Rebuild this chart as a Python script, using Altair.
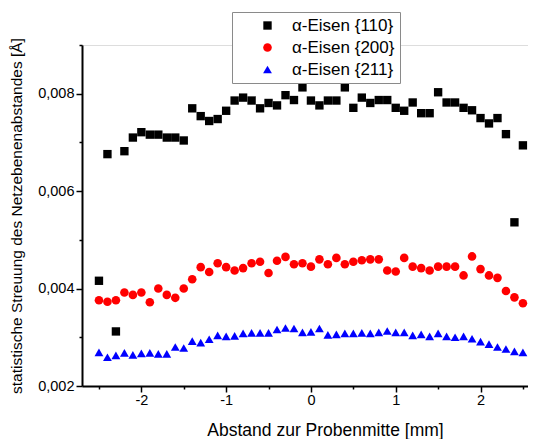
import altair as alt
import pandas as pd

positions = [-2.5, -2.4, -2.3, -2.2, -2.1, -2.0, -1.9, -1.8, -1.7, -1.6, -1.5,
             -1.4, -1.3, -1.2, -1.1, -1.0, -0.9, -0.8, -0.7, -0.6, -0.5,
             -0.4, -0.3, -0.2, -0.1, 0.0, 0.1, 0.2, 0.3, 0.4, 0.5,
             0.6, 0.7, 0.8, 0.9, 1.0, 1.1, 1.2, 1.3, 1.4, 1.5,
             1.6, 1.7, 1.8, 1.9, 2.0, 2.1, 2.2, 2.3, 2.4, 2.5]

eisen_110 = [0.00416, 0.00676, 0.00312, 0.00682, 0.00710, 0.00721, 0.00716, 0.00716, 0.00710, 0.00710, 0.00704,
             0.00770, 0.00754, 0.00744, 0.00748, 0.00765, 0.00786, 0.00792, 0.00786, 0.00770, 0.00781,
             0.00776, 0.00797, 0.00787, 0.00813, 0.00786, 0.00776, 0.00786, 0.00786, 0.00813, 0.00771,
             0.00792, 0.00781, 0.00787, 0.00787, 0.00771, 0.00765, 0.00782, 0.00760, 0.00760, 0.00803,
             0.00782, 0.00782, 0.00771, 0.00766, 0.00750, 0.00739, 0.00750, 0.00717, 0.00536, 0.00694]

eisen_200 = [0.00376, 0.00373, 0.00376, 0.00392, 0.00387, 0.00392, 0.00372, 0.00400, 0.00387, 0.00381, 0.00400,
             0.00419, 0.00444, 0.00434, 0.00452, 0.00444, 0.00437, 0.00442, 0.00452, 0.00455, 0.00432,
             0.00457, 0.00465, 0.00450, 0.00452, 0.00445, 0.00460, 0.00450, 0.00463, 0.00450, 0.00455,
             0.00458, 0.00460, 0.00460, 0.00437, 0.00435, 0.00463, 0.00445, 0.00442, 0.00437, 0.00445,
             0.00445, 0.00445, 0.00427, 0.00466, 0.00440, 0.00427, 0.00422, 0.00395, 0.00382, 0.00370]

eisen_211 = [0.00269, 0.00259, 0.00263, 0.00268, 0.00264, 0.00267, 0.00268, 0.00266, 0.00266, 0.00280, 0.00278,
             0.00292, 0.00289, 0.00296, 0.00304, 0.00302, 0.00303, 0.00308, 0.00309, 0.00309, 0.00309,
             0.00316, 0.00319, 0.00318, 0.00310, 0.00311, 0.00318, 0.00305, 0.00306, 0.00308, 0.00308,
             0.00309, 0.00308, 0.00310, 0.00313, 0.00310, 0.00310, 0.00304, 0.00306, 0.00302, 0.00308,
             0.00302, 0.00300, 0.00302, 0.00297, 0.00291, 0.00286, 0.00280, 0.00276, 0.00271, 0.00269]

series_names = ["\u03b1-Eisen {110}", "\u03b1-Eisen {200}", "\u03b1-Eisen {211}"]
series_colors = ["#000000", "#ff0000", "#0000ff"]
series_shapes = ["square", "circle", "triangle-up"]
series_sizes = [70, 78, 120]

x_ticks = [-2.5, -2.0, -1.5, -1.0, -0.5, 0.0, 0.5, 1.0, 1.5, 2.0, 2.5]
y_ticks = [0.002, 0.003, 0.004, 0.005, 0.006, 0.007, 0.008, 0.009]

rows = []
for name, vals in zip(series_names, [eisen_110, eisen_200, eisen_211]):
    for xv, yv in zip(positions, vals):
        rows.append({"x": xv, "y": yv, "serie": name})
df = pd.DataFrame(rows)

FONT = "Liberation Sans"

x_axis = alt.Axis(
    values=x_ticks,
    labelExpr="datum.value % 1 === 0 ? '' + datum.value : ''",
    tickSize={"condition": {"test": "datum.value % 1 === 0", "value": 6}, "value": 3},
    tickColor="black", tickWidth=1.5,
    domainColor="black", domainWidth=2,
    grid=False,
    labelFont=FONT, labelFontSize=14.5, labelColor="black", labelPadding=1,
    title="Abstand zur Probenmitte [mm]",
    titleFont=FONT, titleFontSize=17.5, titleFontWeight="normal", titleColor="black",
    titleX=243, titleY=49, titleBaseline="alphabetic", titleAnchor="middle",
)

y_axis = alt.Axis(
    values=y_ticks,
    labelExpr="round(datum.value * 1000) % 2 === 0 ? replace(format(datum.value, '.3f'), '.', ',') : ''",
    tickSize={"condition": {"test": "round(datum.value * 1000) % 2 === 0", "value": 6}, "value": 3},
    tickColor="black", tickWidth=1.5,
    domainColor="black", domainWidth=2,
    grid=False,
    labelFont=FONT, labelFontSize=14.5, labelColor="black", labelPadding=2,
    title="statistische Streuung des Netzebenenabstandes [\u00c5]",
    titleFont=FONT, titleFontSize=15.5, titleFontWeight="normal", titleColor="black",
    titleX=-66, titleY=170.5, titleBaseline="middle", titleAngle=270, titleAnchor="middle",
)

legend = alt.Legend(
    title=None, orient="none", legendX=150, legendY=-33,
    fillColor="white", strokeColor="#8a8a8a",
    padding=5, rowPadding=4, symbolOffset=22, labelOffset=16,
    labelFont=FONT, labelFontSize=17, labelColor="black",
    symbolSize=80, symbolStrokeWidth=0,
)

chart = alt.Chart(df).mark_point(filled=True, opacity=1).encode(
    x=alt.X("x:Q", scale=alt.Scale(domain=[-2.7, 2.56], nice=False, zero=False), axis=x_axis),
    y=alt.Y("y:Q", scale=alt.Scale(domain=[0.002, 0.009], nice=False, zero=False), axis=y_axis),
    color=alt.Color("serie:N", scale=alt.Scale(domain=series_names, range=series_colors), legend=legend),
    shape=alt.Shape("serie:N", scale=alt.Scale(domain=series_names, range=series_shapes), legend=legend),
    size=alt.Size("serie:N", scale=alt.Scale(domain=series_names, range=series_sizes), legend=None),
).properties(
    width=446, height=341,
    padding={"left": 74, "top": 37, "right": 0, "bottom": 53},
    autosize=alt.AutoSizeParams(type="none"),
).configure_view(stroke=None).configure(background="white")

chart.save("out.html", embed_options={"renderer": "svg", "actions": False})
